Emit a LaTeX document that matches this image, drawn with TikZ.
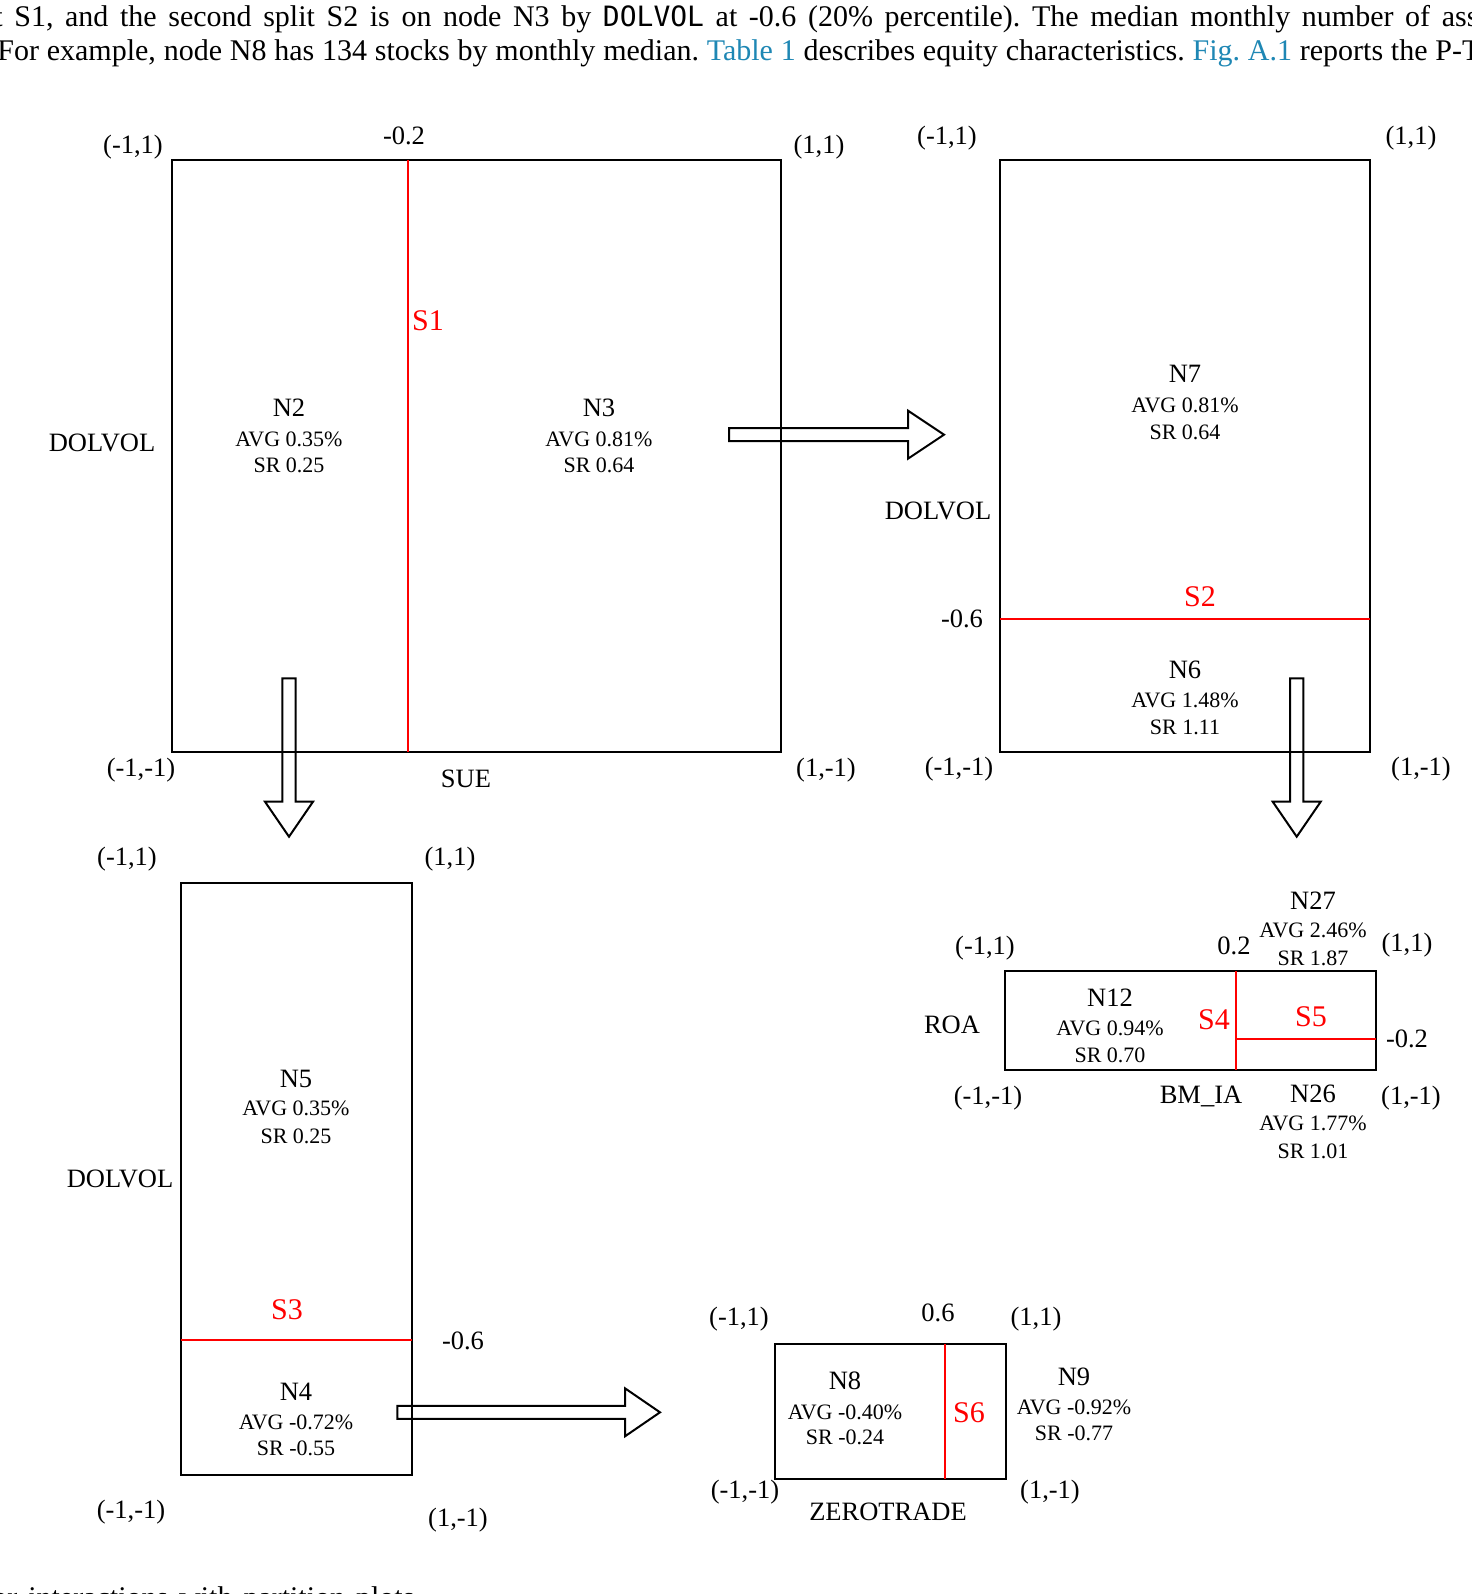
\documentclass[tikz,border=0pt]{standalone}
\usepackage{fontspec}
\setmainfont{Liberation Serif}
\setmonofont{DejaVu Sans Mono}
\definecolor{splitred}{RGB}{255,0,0}
\definecolor{linkblue}{RGB}{30,135,180}
\tikzset{
  lbl/.style={inner sep=0pt, font=\fontsize{13.25}{16}\selectfont, text height=8.77pt, text depth=0pt},
  info/.style={inner sep=0pt, font=\fontsize{11}{13}\selectfont, text height=7.28pt, text depth=0pt},
  slbl/.style={inner sep=0pt, text=splitred, font=\fontsize{15}{18}\selectfont, text height=9.93pt, text depth=0pt},
  partbox/.style={draw=black, line width=1.2pt},
  splitline/.style={draw=splitred, line width=1pt},
  blockarrow/.style={draw=black, line width=1pt, line join=miter},
  bodytext/.style={inner sep=0pt, anchor=base west, font=\fontsize{15}{18}\selectfont}
}
\newcommand\rblock[4]{%
  \draw[blockarrow] (#1,#4-6.5) -- (#2,#4-6.5) -- (#2,#4-24) -- (#3,#4) -- (#2,#4+24) -- (#2,#4+6.5) -- (#1,#4+6.5) -- cycle;}
\newcommand\dblock[4]{%
  \draw[blockarrow] (#1-6.7,#2) -- (#1+6.7,#2) -- (#1+6.7,#3) -- (#1+24,#3) -- (#1,#4) -- (#1-24,#3) -- (#1-6.7,#3) -- cycle;}
\begin{document}
\frenchspacing
\begin{tikzpicture}[x=0.5pt, y=-0.5pt]
\useasboundingbox (0,0) rectangle (1471,1594);
\clip (0,0) rectangle (1471,1594);

% running text of the page
\node[bodytext] (lineone) at (-6,27) {\makebox[742pt][s]{t S1, and the second split S2 is on node N3 by {\fontsize{14}{17}\selectfont\texttt{DOLVOL}} at -0.6 (20\% percentile). The median monthly number of ass}};
\node[bodytext] (linetwo) at (-3,60.5) {\makebox[741.5pt][s]{For example, node N8 has 134 stocks by monthly median. \textcolor{linkblue}{Table 1} describes equity characteristics. \textcolor{linkblue}{Fig. A.1} reports the P-T}};
\node[bodytext] (linelast) at (-8,1607) {\makebox[211pt][s]{or interactions with partition plots}};

% ---------- Box 1 ----------
\draw[partbox] (172,160) rectangle (781,752);
\draw[splitline] (407.7,160) -- (407.7,752);
\node[lbl] (b1tl) at (133,145) {(-1,1)};
\node[lbl] (b1sp) at (404,136) {-0.2};
\node[lbl] (b1tr) at (819,145) {(1,1)};
\node[lbl] (b1y) at (102,443) {DOLVOL};
\node[lbl] (n2) at (289,408) {N2};
\node[info] (n2a) at (289,439) {AVG 0.35\%};
\node[info] (n2s) at (289,465) {SR 0.25};
\node[slbl] (s1) at (428,321) {S1};
\node[lbl] (n3) at (599,408) {N3};
\node[info] (n3a) at (599,439) {AVG 0.81\%};
\node[info] (n3s) at (599,465) {SR 0.64};
\node[lbl] (b1bl) at (141,768) {(-1,-1)};
\node[lbl] (b1x) at (466,779) {SUE};
\node[lbl] (b1br) at (826,768) {(1,-1)};

% ---------- Box 2 ----------
\draw[partbox] (1000,160) rectangle (1370,752);
\draw[splitline] (1000,619) -- (1370,619);
\node[lbl] (b2tl) at (947,136) {(-1,1)};
\node[lbl] (b2tr) at (1411,136) {(1,1)};
\node[lbl] (n7) at (1185,374) {N7};
\node[info] (n7a) at (1185,405) {AVG 0.81\%};
\node[info] (n7s) at (1185,432) {SR 0.64};
\node[lbl] (b2y) at (938,511) {DOLVOL};
\node[slbl] (s2) at (1200,597) {S2};
\node[lbl] (b2sp) at (962,619) {-0.6};
\node[lbl] (n6) at (1185,670) {N6};
\node[info] (n6a) at (1185,700) {AVG 1.48\%};
\node[info] (n6s) at (1185,727) {SR 1.11};
\node[lbl] (b2bl) at (959,767) {(-1,-1)};
\node[lbl] (b2br) at (1421,767) {(1,-1)};

% ---------- Box 3 ----------
\draw[partbox] (181,883) rectangle (412,1475);
\draw[splitline] (181,1340) -- (412,1340);
\node[lbl] (b3tl) at (127,857) {(-1,1)};
\node[lbl] (b3tr) at (450,857) {(1,1)};
\node[lbl] (n5) at (296,1079) {N5};
\node[info] (n5a) at (296,1108) {AVG 0.35\%};
\node[info] (n5s) at (296,1136) {SR 0.25};
\node[lbl] (b3y) at (120,1179) {DOLVOL};
\node[slbl] (s3) at (287,1310) {S3};
\node[lbl] (b3sp) at (463,1341) {-0.6};
\node[lbl] (n4) at (296,1392) {N4};
\node[info] (n4a) at (296,1422) {AVG -0.72\%};
\node[info] (n4s) at (296,1448) {SR -0.55};
\node[lbl] (b3bl) at (131,1510) {(-1,-1)};
\node[lbl] (b3br) at (458,1518) {(1,-1)};

% ---------- Box 4 ----------
\draw[partbox] (1005,971) rectangle (1376,1070);
\draw[splitline] (1236,971) -- (1236,1070);
\draw[splitline] (1236,1039) -- (1376,1039);
\node[lbl] (b4tl) at (985,946) {(-1,1)};
\node[lbl] (b4sp) at (1234,946) {0.2};
\node[lbl] (n27) at (1313,901) {N27};
\node[info] (n27a) at (1313,930) {AVG 2.46\%};
\node[info] (n27s) at (1313,958) {SR 1.87};
\node[lbl] (b4tr) at (1407,943) {(1,1)};
\node[lbl] (b4y) at (952,1025) {ROA};
\node[lbl] (n12) at (1110,998) {N12};
\node[info] (n12a) at (1110,1028) {AVG 0.94\%};
\node[info] (n12s) at (1110,1055) {SR 0.70};
\node[slbl] (s4) at (1214,1020) {S4};
\node[slbl] (s5) at (1311,1017) {S5};
\node[lbl] (b4sq) at (1407,1039) {-0.2};
\node[lbl] (b4bl) at (988,1096) {(-1,-1)};
\node[lbl] (b4x) at (1201,1095) {BM\_IA};
\node[lbl] (n26) at (1313,1094) {N26};
\node[info] (n26a) at (1313,1123) {AVG 1.77\%};
\node[info] (n26s) at (1313,1151) {SR 1.01};
\node[lbl] (b4br) at (1411,1096) {(1,-1)};

% ---------- Box 5 ----------
\draw[partbox] (775,1344) rectangle (1006,1479);
\draw[splitline] (945,1344) -- (945,1479);
\node[lbl] (b5tl) at (739,1317) {(-1,1)};
\node[lbl] (b5sp) at (938,1313) {0.6};
\node[lbl] (b5tr) at (1036,1317) {(1,1)};
\node[lbl] (n8) at (845,1381) {N8};
\node[info] (n8a) at (845,1412) {AVG -0.40\%};
\node[info] (n8s) at (845,1437) {SR -0.24};
\node[slbl] (s6) at (969,1413) {S6};
\node[lbl] (n9) at (1074,1377) {N9};
\node[info] (n9a) at (1074,1407) {AVG -0.92\%};
\node[info] (n9s) at (1074,1433) {SR -0.77};
\node[lbl] (b5bl) at (745,1490) {(-1,-1)};
\node[lbl] (b5br) at (1050,1490) {(1,-1)};
\node[lbl] (b5x) at (888,1512) {ZEROTRADE};

% ---------- block arrows ----------
\rblock{729}{908}{944}{434.7}
\dblock{289}{678.3}{801.7}{836.7}
\dblock{1296.7}{678.3}{801.7}{836.7}
\rblock{397.3}{625}{660}{1412.3}
\end{tikzpicture}
\end{document}
